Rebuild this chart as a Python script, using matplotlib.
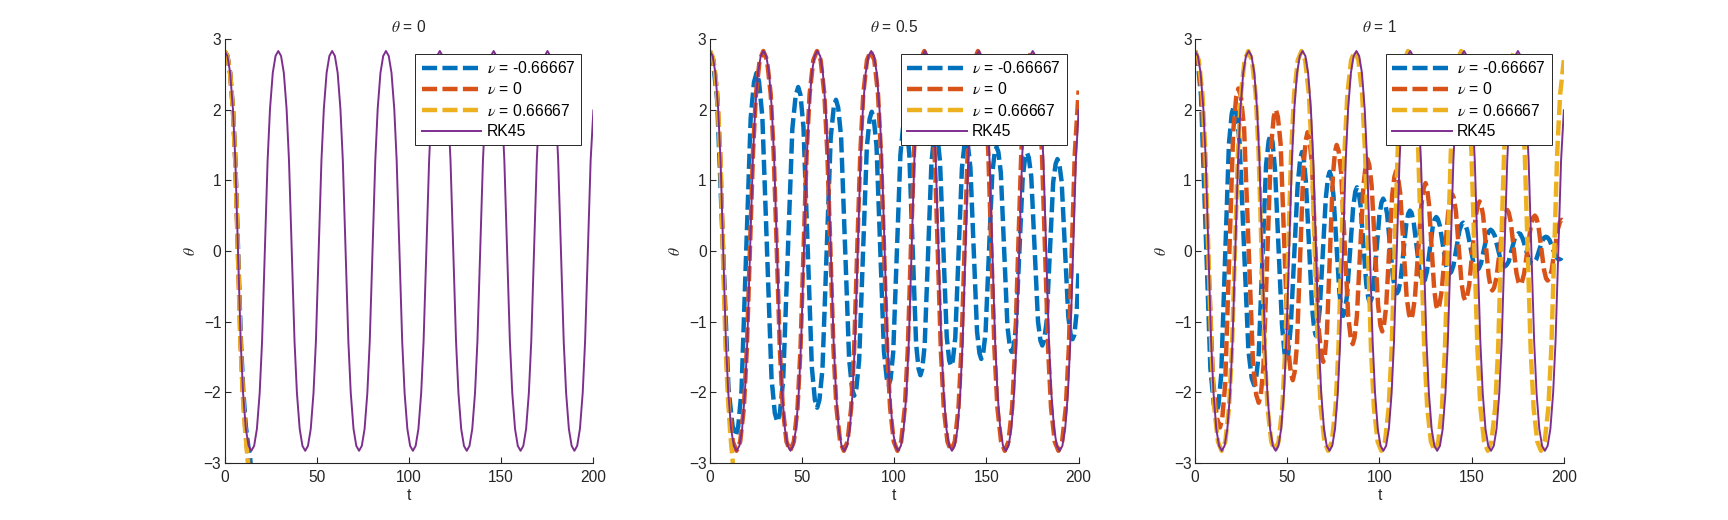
import matplotlib
matplotlib.use("Agg")
import matplotlib.pyplot as plt

plt.rcParams['font.family'] = ['Liberation Sans', 'DejaVu Sans']
plt.rcParams['mathtext.fontset'] = 'stix'

# ---------------- data ----------------
panel_titles = [r'$\theta$ = 0', r'$\theta$ = 0.5', r'$\theta$ = 1']
legend_labels = [r'$\nu$ = -0.66667', r'$\nu$ = 0', r'$\nu$ = 0.66667', 'RK45']
x_ticks = [0, 50, 100, 150, 200]
y_ticks = [-3, -2, -1, 0, 1, 2, 3]

# reference solution (same in all panels)
t_rk45 = [0, 1.5, 3.0, 4.5, 5.8, 7.25, 8.7, 10.0, 11.5, 13.0, 14.5,
          16.0, 17.5, 19.0, 20.3, 21.8, 23.3, 24.6, 26.1, 27.6, 29.1,
          30.6, 32.1, 33.6, 34.9, 36.4, 37.9, 39.2, 40.7, 42.2, 43.7,
          45.2, 46.7, 48.2, 49.5, 51.0, 52.5, 53.8, 55.3, 56.8, 58.3,
          59.8, 61.3, 62.8, 64.1, 65.6, 67.1, 68.4, 69.9, 71.4, 72.9,
          74.4, 75.9, 77.4, 78.7, 80.2, 81.7, 83.0, 84.5, 86.0, 87.5,
          89.0, 90.5, 92.0, 93.3, 94.8, 96.3, 97.6, 99.1, 100.6, 102.1,
          103.6, 105.1, 106.6, 107.9, 109.4, 110.9, 112.2, 113.7, 115.2, 116.7,
          118.2, 119.7, 121.2, 122.5, 124.0, 125.5, 126.8, 128.3, 129.8, 131.3,
          132.8, 134.3, 135.8, 137.1, 138.6, 140.1, 141.4, 142.9, 144.4, 145.9,
          147.4, 148.9, 150.4, 151.7, 153.2, 154.7, 156.0, 157.5, 159.0, 160.5,
          162.0, 163.5, 165.0, 166.3, 167.8, 169.3, 170.6, 172.1, 173.6, 175.1,
          176.6, 178.1, 179.6, 180.9, 182.4, 183.9, 185.2, 186.7, 188.2, 189.7,
          191.2, 192.7, 194.2, 195.5, 197.0, 198.5, 200.0]
th_rk45 = [2.83, 2.76, 2.52, 2.01, 1.28, 0.0, -1.28, -2.01, -2.52, -2.76, -2.83,
           -2.76, -2.52, -2.01, -1.28, 0.0, 1.28, 2.01, 2.52, 2.76, 2.83,
           2.76, 2.52, 2.01, 1.28, 0.0, -1.28, -2.01, -2.52, -2.76, -2.83,
           -2.76, -2.52, -2.01, -1.28, 0.0, 1.28, 2.01, 2.52, 2.76, 2.83,
           2.76, 2.52, 2.01, 1.28, 0.0, -1.28, -2.01, -2.52, -2.76, -2.83,
           -2.76, -2.52, -2.01, -1.28, 0.0, 1.28, 2.01, 2.52, 2.76, 2.83,
           2.76, 2.52, 2.01, 1.28, 0.0, -1.28, -2.01, -2.52, -2.76, -2.83,
           -2.76, -2.52, -2.01, -1.28, 0.0, 1.28, 2.01, 2.52, 2.76, 2.83,
           2.76, 2.52, 2.01, 1.28, 0.0, -1.28, -2.01, -2.52, -2.76, -2.83,
           -2.76, -2.52, -2.01, -1.28, 0.0, 1.28, 2.01, 2.52, 2.76, 2.83,
           2.76, 2.52, 2.01, 1.28, 0.0, -1.28, -2.01, -2.52, -2.76, -2.83,
           -2.76, -2.52, -2.01, -1.28, 0.0, 1.28, 2.01, 2.52, 2.76, 2.83,
           2.76, 2.52, 2.01, 1.28, 0.0, -1.28, -2.01, -2.52, -2.76, -2.83,
           -2.76, -2.52, -2.01, -1.28, 0.0, 1.28, 1.99]

# panel theta = 0 (all three schemes leave the plot quickly)
t_p1_nm = [0, 1.5, 3.0, 4.5, 5.8, 7.3, 8.8, 10.1, 11.5, 12.8, 13.9, 14.8]
th_p1_nm = [2.83, 2.76, 2.52, 2.01, 1.28, 0.0, -1.26, -1.98, -2.48, -2.76, -2.95, -3.25]
t_p1_n0 = [0, 1.5, 3.0, 4.5, 5.8, 7.2, 8.6, 9.9, 11.3, 12.5, 13.5]
th_p1_n0 = [2.83, 2.76, 2.51, 2.00, 1.26, -0.02, -1.30, -2.03, -2.56, -2.90, -3.20]
t_p1_np = [0, 1.5, 3.0, 4.5, 5.8, 7.2, 8.6, 9.9, 11.2, 12.4, 13.4]
th_p1_np = [2.83, 2.76, 2.50, 1.99, 1.25, -0.04, -1.33, -2.06, -2.58, -2.93, -3.25]

# panel theta = 0.5
t_p2_nm = [0, 1.68, 3.92, 7.0, 10.08, 12.32, 14.0,
           15.36, 17.16, 19.65, 22.14, 23.94, 25.3,
           26.66, 28.46, 30.95, 33.44, 35.24, 36.6,
           37.96, 39.76, 42.25, 44.74, 46.54, 47.9,
           49.14, 50.78, 53.05, 55.32, 56.96, 58.2,
           59.42, 61.06, 63.3, 65.54, 67.18, 68.4,
           69.59, 71.17, 73.35, 75.53, 77.11, 78.3,
           79.44, 80.96, 83.05, 85.14, 86.66, 87.8,
           88.9, 90.38, 92.4, 94.42, 95.9, 97.0,
           98.06, 99.46, 101.4, 103.34, 104.74, 105.8,
           106.81, 108.15, 110.0, 111.85, 113.19, 114.2,
           115.2, 116.52, 118.35, 120.18, 121.5, 122.5,
           123.5, 124.82, 126.65, 128.48, 129.8, 130.8,
           131.78, 133.1, 134.9, 136.7, 138.02, 139.0,
           139.98, 141.3, 143.1, 144.9, 146.22, 147.2,
           148.2, 149.52, 151.35, 153.18, 154.5, 155.5,
           156.48, 157.8, 159.6, 161.4, 162.72, 163.7,
           164.7, 166.02, 167.85, 169.68, 171.0, 172.0,
           173.0, 174.32, 176.15, 177.98, 179.3, 180.3,
           181.28, 182.6, 184.4, 186.2, 187.52, 188.5,
           189.48, 190.8, 192.6, 194.4, 195.72, 196.7,
           197.68, 199.0, 200.0]
th_p2_nm = [2.83, 2.69, 2.15, 0.11, -1.94, -2.48, -2.62,
            -2.49, -1.98, -0.05, 1.88, 2.39, 2.52,
            2.40, 1.90, 0.05, -1.80, -2.30, -2.42,
            -2.30, -1.83, -0.05, 1.73, 2.20, 2.32,
            2.21, 1.75, 0.05, -1.65, -2.11, -2.22,
            -2.11, -1.68, -0.04, 1.60, 2.03, 2.14,
            2.03, 1.62, 0.05, -1.53, -1.95, -2.05,
            -1.95, -1.55, -0.04, 1.47, 1.87, 1.97,
            1.87, 1.49, 0.04, -1.42, -1.80, -1.90,
            -1.81, -1.43, -0.04, 1.36, 1.74, 1.83,
            1.74, 1.38, 0.04, -1.31, -1.67, -1.76,
            -1.67, -1.33, -0.04, 1.25, 1.59, 1.68,
            1.60, 1.27, 0.03, -1.22, -1.55, -1.63,
            -1.55, -1.23, -0.03, 1.17, 1.49, 1.57,
            1.49, 1.18, 0.02, -1.14, -1.45, -1.53,
            -1.46, -1.16, -0.03, 1.10, 1.40, 1.47,
            1.40, 1.11, 0.02, -1.07, -1.36, -1.43,
            -1.36, -1.08, -0.02, 1.04, 1.32, 1.39,
            1.32, 1.05, 0.03, -1.00, -1.27, -1.34,
            -1.27, -1.01, -0.02, 0.97, 1.23, 1.30,
            1.24, 0.98, 0.03, -0.93, -1.19, -1.25,
            -1.19, -0.85, -0.25]
t_p2_n0 = [0, 2.0, 4.0, 5.6, 7.2, 8.85, 10.45, 12.45, 14.45,
           16.45, 18.45, 20.05, 21.7, 23.4, 25.0, 27.0, 29.0,
           31.0, 33.0, 34.6, 36.3, 37.95, 39.55, 41.55, 43.55,
           45.55, 47.55, 49.15, 50.8, 52.5, 54.1, 56.1, 58.1,
           60.1, 62.1, 63.7, 65.4, 67.05, 68.65, 70.65, 72.65,
           74.65, 76.65, 78.25, 79.9, 81.6, 83.2, 85.2, 87.2,
           89.2, 91.2, 92.8, 94.5, 96.15, 97.75, 99.75, 101.75,
           103.75, 105.75, 107.35, 109.0, 110.7, 112.3, 114.3, 116.3,
           118.3, 120.3, 121.9, 123.6, 125.25, 126.85, 128.85, 130.85,
           132.85, 134.85, 136.45, 138.1, 139.8, 141.4, 143.4, 145.4,
           147.4, 149.4, 151.0, 152.7, 154.35, 155.95, 157.95, 159.95,
           161.95, 163.95, 165.55, 167.2, 168.9, 170.5, 172.5, 174.5,
           176.5, 178.5, 180.1, 181.8, 183.45, 185.05, 187.05, 189.05,
           191.05, 193.05, 194.65, 196.3, 197.95, 200.0]
th_p2_n0 = [2.83, 2.70, 2.22, 1.39, 0.0, -1.39, -2.22, -2.70, -2.83,
            -2.70, -2.22, -1.39, 0.0, 1.39, 2.22, 2.70, 2.83,
            2.70, 2.22, 1.39, 0.0, -1.39, -2.22, -2.70, -2.83,
            -2.70, -2.22, -1.39, 0.0, 1.39, 2.22, 2.70, 2.83,
            2.70, 2.22, 1.39, 0.0, -1.39, -2.22, -2.70, -2.83,
            -2.70, -2.22, -1.39, 0.0, 1.39, 2.22, 2.70, 2.83,
            2.70, 2.22, 1.39, 0.0, -1.39, -2.22, -2.70, -2.83,
            -2.70, -2.22, -1.39, 0.0, 1.39, 2.22, 2.70, 2.83,
            2.70, 2.22, 1.39, 0.0, -1.39, -2.22, -2.70, -2.83,
            -2.70, -2.22, -1.39, 0.0, 1.39, 2.22, 2.70, 2.83,
            2.70, 2.22, 1.39, 0.0, -1.39, -2.22, -2.70, -2.83,
            -2.70, -2.22, -1.39, 0.0, 1.39, 2.22, 2.70, 2.83,
            2.70, 2.22, 1.39, 0.0, -1.39, -2.22, -2.70, -2.83,
            -2.70, -2.22, -1.39, 0.0, 1.39, 2.27]
t_p2_np = [0, 1.5, 3.0, 4.5, 5.8, 7.1, 8.5, 9.8, 11.1, 12.3, 13.3]
th_p2_np = [2.83, 2.75, 2.49, 1.97, 1.22, -0.06, -1.35, -2.08, -2.60, -2.95, -3.30]

# panel theta = 1
t_p3_nm = [0, 1.38, 3.22, 5.75, 8.28, 10.12, 11.5,
           12.64, 14.16, 16.25, 18.34, 19.86, 21.0,
           22.32, 24.08, 26.5, 28.92, 30.68, 32.0,
           33.08, 34.52, 36.5, 38.48, 39.92, 41.0,
           42.02, 43.38, 45.25, 47.12, 48.48, 49.5,
           50.52, 51.88, 53.75, 55.62, 56.98, 58.0,
           58.9, 60.1, 61.75, 63.4, 64.6, 65.5,
           66.4, 67.6, 69.25, 70.9, 72.1, 73.0,
           73.88, 75.04, 76.65, 78.26, 79.42, 80.3,
           81.2, 82.4, 84.05, 85.7, 86.9, 87.8,
           88.64, 89.76, 91.3, 92.84, 93.96, 94.8,
           95.66, 96.82, 98.4, 99.98, 101.14, 102.0,
           102.9, 104.1, 105.75, 107.4, 108.6, 109.5,
           110.34, 111.46, 113.0, 114.54, 115.66, 116.5,
           117.38, 118.54, 120.15, 121.76, 122.92, 123.8,
           124.64, 125.76, 127.3, 128.84, 129.96, 130.8,
           131.66, 132.82, 134.4, 135.98, 137.14, 138.0,
           138.9, 140.1, 141.75, 143.4, 144.6, 145.5,
           146.4, 147.6, 149.25, 150.9, 152.1, 153.0,
           153.88, 155.04, 156.65, 158.26, 159.42, 160.3,
           161.22, 162.46, 164.15, 165.84, 167.08, 168.0,
           168.9, 170.1, 171.75, 173.4, 174.6, 175.5,
           176.4, 177.6, 179.25, 180.9, 182.1, 183.0,
           183.88, 185.04, 186.65, 188.26, 189.42, 190.3,
           191.16, 192.32, 193.9, 195.48, 196.64, 197.5,
           198.4, 200.0]
th_p3_nm = [2.83, 2.70, 2.19, 0.27, -1.66, -2.17, -2.30,
            -2.19, -1.76, -0.13, 1.51, 1.94, 2.05,
            1.95, 1.56, 0.08, -1.41, -1.80, -1.90,
            -1.81, -1.46, -0.13, 1.21, 1.56, 1.65,
            1.54, 1.14, 0.05, -1.04, -1.44, -1.55,
            -1.45, -1.08, -0.08, 0.93, 1.30, 1.40,
            1.31, 0.98, 0.10, -0.78, -1.11, -1.20,
            -1.12, -0.83, -0.04, 0.75, 1.04, 1.12,
            1.05, 0.79, 0.10, -0.59, -0.85, -0.92,
            -0.86, -0.63, -0.01, 0.61, 0.84, 0.90,
            0.84, 0.64, 0.09, -0.47, -0.67, -0.73,
            -0.68, -0.50, 0.01, 0.51, 0.69, 0.74,
            0.69, 0.53, 0.07, -0.39, -0.55, -0.60,
            -0.56, -0.41, -0.02, 0.38, 0.53, 0.57,
            0.54, 0.41, 0.07, -0.28, -0.41, -0.44,
            -0.41, -0.29, 0.02, 0.33, 0.45, 0.48,
            0.45, 0.35, 0.08, -0.19, -0.29, -0.32,
            -0.30, -0.21, 0.04, 0.29, 0.38, 0.40,
            0.38, 0.29, 0.07, -0.16, -0.25, -0.27,
            -0.25, -0.18, 0.02, 0.21, 0.28, 0.30,
            0.28, 0.22, 0.04, -0.14, -0.20, -0.22,
            -0.20, -0.15, 0.02, 0.18, 0.23, 0.25,
            0.24, 0.18, 0.04, -0.11, -0.17, -0.18,
            -0.17, -0.12, 0.01, 0.14, 0.19, 0.20,
            0.19, 0.15, 0.04, -0.07, -0.11, -0.12,
            -0.11, -0.03]
t_p3_n0 = [0, 1.62, 3.78, 6.75, 9.72, 11.88, 13.5,
           14.7, 16.3, 18.5, 20.7, 22.3, 23.5,
           24.82, 26.58, 29.0, 31.42, 33.18, 34.5,
           35.62, 37.1, 39.15, 41.2, 42.68, 43.8,
           44.9, 46.38, 48.4, 50.42, 51.9, 53.0,
           53.96, 55.24, 57.0, 58.76, 60.04, 61.0,
           62.02, 63.38, 65.25, 67.12, 68.48, 69.5,
           70.38, 71.54, 73.15, 74.76, 75.92, 76.8,
           77.84, 79.24, 81.15, 83.06, 84.46, 85.5,
           86.46, 87.74, 89.5, 91.26, 92.54, 93.5,
           94.46, 95.74, 97.5, 99.26, 100.54, 101.5,
           102.4, 103.6, 105.25, 106.9, 108.1, 109.0,
           109.96, 111.24, 113.0, 114.76, 116.04, 117.0,
           117.96, 119.24, 121.0, 122.76, 124.04, 125.0,
           125.78, 126.82, 128.25, 129.68, 130.72, 131.5,
           132.46, 133.74, 135.5, 137.26, 138.54, 139.5,
           140.34, 141.46, 143.0, 144.54, 145.66, 146.5,
           147.44, 148.68, 150.4, 152.12, 153.36, 154.3,
           155.13, 156.23, 157.75, 159.27, 160.37, 161.2,
           162.17, 163.47, 165.25, 167.03, 168.33, 169.3,
           170.13, 171.23, 172.75, 174.27, 175.37, 176.2,
           177.17, 178.47, 180.25, 182.03, 183.33, 184.3,
           185.13, 186.23, 187.75, 189.27, 190.37, 191.2,
           192.11, 193.33, 195.0, 196.67, 197.89, 198.8,
           200.0]
th_p3_n0 = [2.83, 2.70, 2.16, 0.17, -1.83, -2.37, -2.50,
            -2.38, -1.90, -0.10, 1.70, 2.18, 2.30,
            2.19, 1.74, 0.08, -1.59, -2.04, -2.15,
            -2.05, -1.63, -0.08, 1.48, 1.90, 2.00,
            1.90, 1.52, 0.09, -1.35, -1.73, -1.83,
            -1.72, -1.34, -0.08, 1.19, 1.57, 1.68,
            1.58, 1.23, 0.06, -1.12, -1.47, -1.57,
            -1.48, -1.14, -0.04, 1.07, 1.41, 1.50,
            1.42, 1.11, 0.09, -0.93, -1.24, -1.32,
            -1.23, -0.93, -0.01, 0.91, 1.21, 1.30,
            1.22, 0.93, 0.08, -0.77, -1.06, -1.14,
            -1.06, -0.80, -0.01, 0.79, 1.05, 1.13,
            1.06, 0.82, 0.08, -0.66, -0.90, -0.97,
            -0.90, -0.66, -0.01, 0.65, 0.89, 0.96,
            0.90, 0.67, 0.07, -0.54, -0.77, -0.83,
            -0.77, -0.57, -0.02, 0.54, 0.74, 0.80,
            0.75, 0.56, 0.05, -0.46, -0.65, -0.70,
            -0.65, -0.48, 0.00, 0.48, 0.65, 0.70,
            0.66, 0.50, 0.07, -0.36, -0.52, -0.56,
            -0.52, -0.38, 0.01, 0.40, 0.54, 0.58,
            0.54, 0.41, 0.05, -0.31, -0.44, -0.48,
            -0.45, -0.32, 0.01, 0.34, 0.47, 0.50,
            0.47, 0.35, 0.04, -0.27, -0.39, -0.42,
            -0.39, -0.28, 0.01, 0.30, 0.41, 0.44,
            0.42]
t_p3_np = [0, 2.0, 4.0, 5.6, 7.2, 8.8, 10.4, 12.4, 14.4,
           16.4, 18.4, 20.0, 21.6, 23.25, 24.85, 26.85, 28.85,
           30.85, 32.85, 34.45, 36.05, 37.7, 39.3, 41.3, 43.3,
           45.3, 47.3, 48.9, 50.5, 52.1, 53.7, 55.7, 57.7,
           59.7, 61.7, 63.3, 64.9, 66.55, 68.15, 70.15, 72.15,
           74.15, 76.15, 77.75, 79.35, 81.0, 82.6, 84.6, 86.6,
           88.6, 90.6, 92.2, 93.8, 95.4, 97.0, 99.0, 101.0,
           103.0, 105.0, 106.6, 108.2, 109.85, 111.45, 113.45, 115.45,
           117.45, 119.45, 121.05, 122.65, 124.3, 125.9, 127.9, 129.9,
           131.9, 133.9, 135.5, 137.1, 138.7, 140.3, 142.3, 144.3,
           146.3, 148.3, 149.9, 151.5, 153.15, 154.75, 156.75, 158.75,
           160.75, 162.75, 164.35, 165.95, 167.6, 169.2, 171.2, 173.2,
           175.2, 177.2, 178.8, 180.4, 182.0, 183.6, 185.6, 187.6,
           189.6, 191.6, 193.2, 194.8, 196.4, 198.0, 200.0]
th_p3_np = [2.83, 2.70, 2.22, 1.39, 0.0, -1.39, -2.22, -2.70, -2.83,
            -2.70, -2.22, -1.39, 0.0, 1.39, 2.22, 2.70, 2.83,
            2.70, 2.22, 1.39, 0.0, -1.39, -2.22, -2.70, -2.83,
            -2.70, -2.22, -1.39, 0.0, 1.39, 2.22, 2.70, 2.83,
            2.70, 2.22, 1.39, 0.0, -1.39, -2.22, -2.70, -2.83,
            -2.70, -2.22, -1.39, 0.0, 1.39, 2.22, 2.70, 2.83,
            2.70, 2.22, 1.39, 0.0, -1.39, -2.22, -2.70, -2.83,
            -2.70, -2.22, -1.39, 0.0, 1.39, 2.22, 2.70, 2.83,
            2.70, 2.22, 1.39, 0.0, -1.39, -2.22, -2.70, -2.83,
            -2.70, -2.22, -1.39, 0.0, 1.39, 2.22, 2.70, 2.83,
            2.70, 2.22, 1.39, 0.0, -1.39, -2.22, -2.70, -2.83,
            -2.70, -2.22, -1.39, 0.0, 1.39, 2.22, 2.70, 2.83,
            2.70, 2.22, 1.39, 0.0, -1.39, -2.22, -2.70, -2.83,
            -2.70, -2.22, -1.39, 0.0, 1.39, 2.22, 2.70]

panels = [
    [(t_p1_nm, th_p1_nm), (t_p1_n0, th_p1_n0), (t_p1_np, th_p1_np)],
    [(t_p2_nm, th_p2_nm), (t_p2_n0, th_p2_n0), (t_p2_np, th_p2_np)],
    [(t_p3_nm, th_p3_nm), (t_p3_n0, th_p3_n0), (t_p3_np, th_p3_np)],
]

# ---------------- style ----------------
colors = ['#0072BD', '#D95319', '#EDB120']
rk_color = '#7E2F8E'
ink = '#262626'

fig = plt.figure(figsize=(17.28, 5.2), dpi=100)
lefts = [0.13, 0.4108, 0.6916]

for k in range(3):
    ax = fig.add_axes([lefts[k], 0.11, 0.2134, 0.815])
    handles = []
    for (tt, yy), c in zip(panels[k], colors):
        ln, = ax.plot(tt, yy, color=c, lw=3.2, dashes=(3.4, 1.2),
                      solid_capstyle='butt', dash_capstyle='butt')
        handles.append(ln)
    ln, = ax.plot(t_rk45, th_rk45, color=rk_color, lw=1.4)
    handles.append(ln)

    ax.set_xlim(0, 200)
    ax.set_ylim(-3, 3)
    ax.set_xticks(x_ticks)
    ax.set_yticks(y_ticks)
    for s in ['top', 'right']:
        ax.spines[s].set_visible(False)
    for s in ['left', 'bottom']:
        ax.spines[s].set_color(ink)
        ax.spines[s].set_linewidth(0.8)
    ax.tick_params(direction='in', length=4, width=0.8, colors=ink,
                   labelsize=11.2)
    ax.tick_params(axis='x', pad=5.5)
    ax.tick_params(axis='y', pad=2.4)
    ax.set_xlabel('t', fontsize=11.2, color=ink, labelpad=2)
    ax.set_ylabel(r'$\theta$', fontsize=11.2, color=ink, labelpad=4)
    ax.set_title(panel_titles[k], fontsize=11.2, color=ink, pad=4.8)

    leg = ax.legend(handles, legend_labels, loc='upper right',
                    bbox_to_anchor=(0.9675, 0.9646), borderaxespad=0,
                    fontsize=11.3, handlelength=3.82, handletextpad=0.33,
                    borderpad=0.39, labelspacing=0.34, fancybox=False,
                    framealpha=1, edgecolor=ink)
    leg.get_frame().set_linewidth(0.7)
    for txt in leg.get_texts():
        txt.set_color('black')

fig.savefig('out.png', dpi=100)
